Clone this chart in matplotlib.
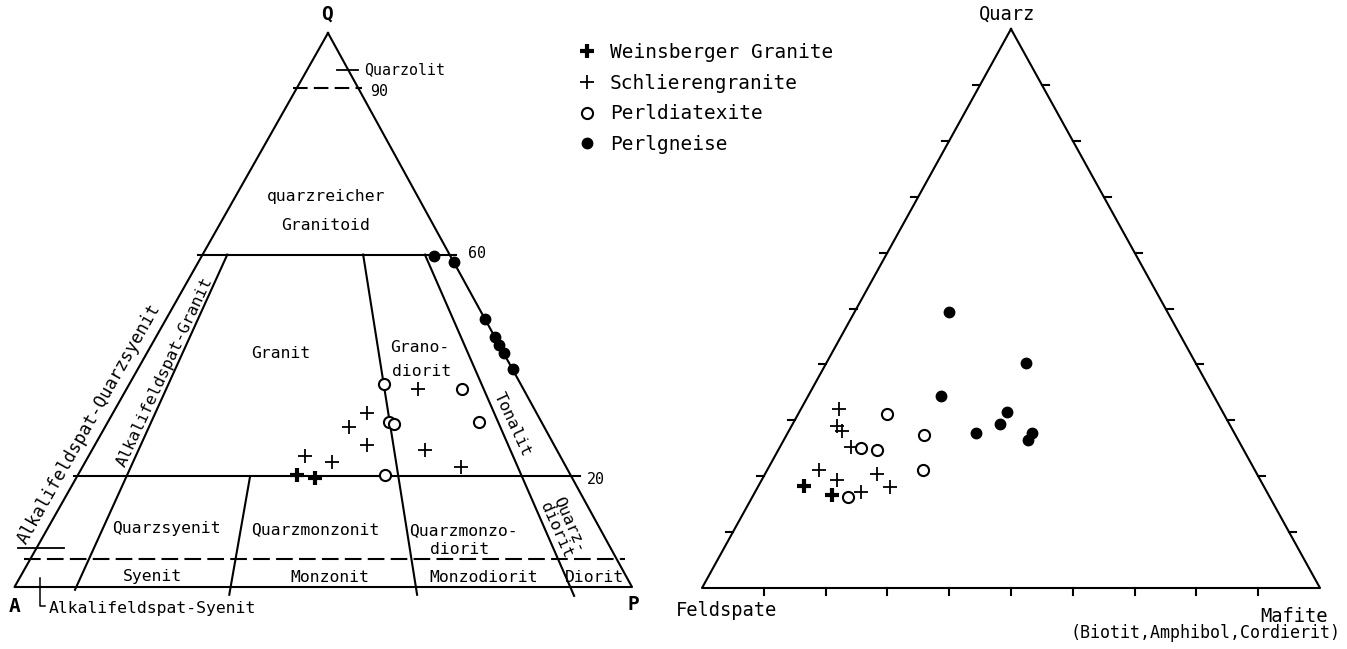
import matplotlib
matplotlib.use('Agg')
import matplotlib.pyplot as plt
import numpy as np

plt.rcParams['font.family'] = ['DejaVu Sans Mono', 'DejaVu Sans']

# QAP-Diagramm (Streckeisen): Q, A, P in %
weinsberger_qap = [(20.2, 44.3, 35.5), (19.6, 41.7, 38.7)]
schlieren_qap = [(35.7, 17.0, 47.3), (31.4, 27.4, 41.2), (28.8, 31.6, 39.6),
                 (25.6, 30.3, 44.1), (24.7, 21.3, 54.0), (23.7, 41.3, 35.0),
                 (22.6, 37.5, 39.9), (21.6, 17.1, 61.3)]
diatexite_qap = [(36.6, 22.1, 41.3), (29.8, 24.7, 45.5), (29.4, 24.1, 46.5),
                 (35.7, 10.0, 54.3), (29.7, 10.1, 60.2), (20.3, 30.0, 49.7)]
gneise_qap = [(59.8, 2.7, 37.5), (58.7, 0.0, 41.3), (48.3, 0.0, 51.7),
              (45.1, 0.0, 54.9), (43.7, 0.0, 56.3), (42.2, 0.0, 57.8),
              (39.3, 0.0, 60.7)]

# Quarz - Feldspate - Mafite in %
weinsberger_qfm = [(18.2, 74.4, 7.4), (16.6, 70.6, 12.8)]
schlieren_qfm = [(32.0, 61.8, 6.2), (29.0, 63.7, 7.3), (28.0, 63.4, 8.6),
                 (25.3, 63.3, 11.4), (21.1, 70.5, 8.4), (19.3, 68.5, 12.2),
                 (20.4, 61.5, 18.1), (18.1, 60.5, 21.4), (17.2, 65.6, 17.2)]
diatexite_qfm = [(31.1, 54.5, 14.4), (27.3, 50.4, 22.3), (25.0, 61.8, 13.2),
                 (24.7, 59.4, 15.9), (21.1, 53.7, 25.2), (16.3, 68.2, 15.5)]
gneise_qfm = [(49.4, 35.3, 15.3), (40.2, 27.4, 32.4), (34.4, 44.2, 21.4),
              (31.5, 34.9, 33.6), (29.3, 37.1, 33.6), (27.7, 41.8, 30.5),
              (27.8, 32.7, 39.5), (26.4, 34.1, 39.5)]

series_names = ['Weinsberger Granite', 'Schlierengranite', 'Perldiatexite', 'Perlgneise']

# Streckeisen boundaries
q_levels = [90, 60, 20, 5]
pa_ratios = [10, 35, 65, 90]

# triangle corners in pixel space (top, left, right)
LEFT = [(328, 33), (14.5, 587), (632, 587)]
RIGHT = [(1011, 29), (702, 588), (1320, 588)]


def tern(corners, top, left, right):
    top, left, right = np.asarray(top, float), np.asarray(left, float), np.asarray(right, float)
    s = top + left + right
    t, l, r = top / s, left / s, right / s
    x = t * corners[0][0] + l * corners[1][0] + r * corners[2][0]
    y = t * corners[0][1] + l * corners[1][1] + r * corners[2][1]
    return x, y


def qap_ratio(q, ratio):
    # point at Q level q (%) on the radial line P/(A+P)=ratio (%)
    rest = 100.0 - q
    return tern(LEFT, q, rest * (1 - ratio / 100.0), rest * ratio / 100.0)


def cols(pts):
    a = np.array(pts)
    return a[:, 0], a[:, 1], a[:, 2]


fig = plt.figure(figsize=(13.47, 6.49), dpi=100)
ax = fig.add_axes([0, 0, 1, 1])
ax.set_xlim(0, 1347)
ax.set_ylim(649, 0)
ax.axis('off')

LW = 1.5
FS = 11.8
k = 'black'

# ---------------- left: QAP ----------------
tri = LEFT + [LEFT[0]]
ax.plot([p[0] for p in tri], [p[1] for p in tri], color=k, lw=LW)


def hline(q, ext_l, ext_r, **kw):
    x0, y0 = qap_ratio(q, 0)
    x1, y1 = qap_ratio(q, 100)
    ax.plot([x0 - ext_l, x1 + ext_r], [y0, y1], color=k, lw=LW, **kw)


hline(q_levels[1], 5, 6)
hline(q_levels[2], 3, 9)
hline(q_levels[0], 4, 4, ls=(0, (7, 3)))
hline(q_levels[3], 6, 8, ls=(0, (8, 3)))

# radial boundaries: (ratio, from Q, to Q)
for r, q0, q1 in [(pa_ratios[0], 60, -0.5), (pa_ratios[1], 20, -1.4),
                  (pa_ratios[2], 60, -1.4), (pa_ratios[3], 60, -1.6)]:
    xa, ya = qap_ratio(q0, r)
    xb, yb = qap_ratio(q1, r)
    ax.plot([xa, xb], [ya, yb], color=k, lw=LW)

# small marker lines
xq, yq = qap_ratio(93.3, 100)
ax.plot([xq - 11, xq + 10], [yq, yq], color=k, lw=1.3)
xs, ys = qap_ratio(7.0, 0)
ax.plot([xs - 18, xs + 28], [ys, ys], color=k, lw=1.3)
ax.plot([40, 40, 45], [578, 606, 606], color=k, lw=1.1)

# data
sty = [dict(marker='+', ms=10, mew=3.0, mfc='none'),
       dict(marker='+', ms=10, mew=1.3, mfc='none'),
       dict(marker='o', ms=8, mew=1.5, mfc='white'),
       dict(marker='o', ms=7.5, mew=1.0, mfc=k)]
handles = []
for pts, st, name in zip([weinsberger_qap, schlieren_qap, diatexite_qap, gneise_qap], sty, series_names):
    x, y = tern(LEFT, *cols(pts))
    h, = ax.plot(x, y, ls='none', color=k, mec=k, label=name, zorder=3, **st)
    handles.append(h)

# labels
txt = dict(ha='center', va='center', fontsize=FS, color=k)
ax.text(327, 14, 'Q', fontsize=14, fontweight='bold', ha='center', va='center')
ax.text(15, 606, 'A', fontsize=14, fontweight='bold', ha='center', va='center')
ax.text(633, 605, 'P', fontsize=14, fontweight='bold', ha='center', va='center')
ax.text(364, 70, 'Quarzolit', ha='left', va='center', fontsize=FS - 1)
ax.text(370, 92, '90', ha='left', va='center', fontsize=FS - 1)
ax.text(468, 254, '60', ha='left', va='center', fontsize=FS - 1)
ax.text(587, 479, '20', ha='left', va='center', fontsize=FS - 1)
ax.text(326, 197, 'quarzreicher', **txt)
ax.text(326, 226, 'Granitoid', **txt)
ax.text(281, 354, 'Granit', **txt)
ax.text(420, 348, 'Grano-', **txt)
ax.text(422, 372, 'diorit', **txt)
ax.text(512, 424, 'Tonalit', rotation=-65, rotation_mode='anchor', **txt)
ax.text(165, 372, 'Alkalifeldspat-Granit', rotation=65, rotation_mode='anchor', **txt)
ax.text(89, 424, 'Alkalifeldspat-Quarzsyenit', rotation=60.5, rotation_mode='anchor',
        ha='center', va='center', fontsize=FS + 0.7)
ax.text(166, 529, 'Quarzsyenit', **txt)
ax.text(315, 530, 'Quarzmonzonit', **txt)
ax.text(463, 531, 'Quarzmonzo-', **txt)
ax.text(460, 549, 'diorit', **txt)
ax.text(570, 524, 'Quarz-', rotation=-66, rotation_mode='anchor', **txt)
ax.text(556, 530, 'diorit', rotation=-66, rotation_mode='anchor', **txt)
ax.text(152, 576, 'Syenit', **txt)
ax.text(330, 577, 'Monzonit', **txt)
ax.text(484, 578, 'Monzodiorit', **txt)
ax.text(594, 578, 'Diorit', **txt)
ax.text(49, 608, 'Alkalifeldspat-Syenit', ha='left', va='center', fontsize=FS)

ax.legend(handles=handles, loc='upper left', bbox_to_anchor=(577 / 1347, 1 - 43 / 649),
          frameon=False, fontsize=14, numpoints=1, handlelength=1.0,
          handletextpad=0.7, labelspacing=0.6, borderpad=0, borderaxespad=0)

# ---------------- right: Quarz-Feldspate-Mafite ----------------
tri = RIGHT + [RIGHT[0]]
ax.plot([p[0] for p in tri], [p[1] for p in tri], color=k, lw=LW)
tick = 7
for t in range(10, 100, 10):
    # bottom ticks
    x, y = tern(RIGHT, 0, 100 - t, t)
    ax.plot([x, x], [y, y + tick], color=k, lw=LW)
    # left side
    x, y = tern(RIGHT, t, 100 - t, 0)
    ax.plot([x - tick, x], [y, y], color=k, lw=LW)
    # right side
    x, y = tern(RIGHT, t, 0, 100 - t)
    ax.plot([x, x + tick], [y, y], color=k, lw=LW)

for pts, st in zip([weinsberger_qfm, schlieren_qfm, diatexite_qfm, gneise_qfm], sty):
    x, y = tern(RIGHT, *cols(pts))
    ax.plot(x, y, ls='none', color=k, mec=k, zorder=3, **st)

ax.text(1007, 14, 'Quarz', ha='center', va='center', fontsize=13.5)
ax.text(727, 611, 'Feldspate', ha='center', va='center', fontsize=13.5)
ax.text(1294, 616, 'Mafite', ha='center', va='center', fontsize=13.5)
ax.text(1341, 633, '(Biotit,Amphibol,Cordierit)', ha='right', va='center', fontsize=12)

fig.savefig('out.png', dpi=100)
